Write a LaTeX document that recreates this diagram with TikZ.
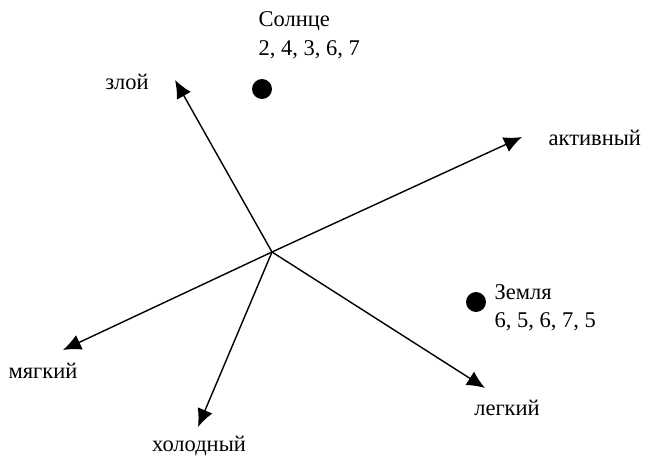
\documentclass[tikz,border=0pt]{standalone}
\usepackage{fontspec}
\setmainfont{Liberation Serif}
\usetikzlibrary{arrows.meta}

\begin{document}
\begin{tikzpicture}[x = 0.02cm, y = -0.02cm, dot/.style = {draw, fill = black, circle, inner sep = 0pt, minimum size = 0.37cm}, lbl/.style = {inner sep = 0pt, font = \fontsize{12.8}{15}\selectfont}, >={Latex[length=0.36cm, width=0.32cm]}, line width = 0.8pt]
				\useasboundingbox (0,0) rectangle (645,457);
				\coordinate (O) at (272,252);
				\coordinate (zloj) at (175,80);
				\coordinate (aktiv) at (522,137);
				\coordinate (myag) at (63,350);
				\coordinate (holod) at (198,427);
				\coordinate (legk) at (485,388);
				\node[lbl] (Lzloj) at (127,82) {злой};
				\node[lbl, anchor = west] (Laktiv) at (548,138) {активный};
				\node[lbl] (Lmyag) at (43,371) {мягкий};
				\node[lbl] (Lholod) at (199,446) {холодный};
				\node[lbl] (Llegk) at (507,408) {легкий};
				\node[dot] (sun) at (262,89) {};
				\node[lbl, anchor = west] (Lsun) at (258,21) {Солнце};
				\node[lbl, anchor = west] (Vsun) at (258,50) {2, 4, 3, 6, 7};
				\node[dot] (earth) at (476,302) {};
				\node[lbl, anchor = west] (Learth) at (494,292) {Земля};
				\node[lbl, anchor = west] (Vearth) at (494,322) {6, 5, 6, 7, 5};
				\draw[->] (O) -- (zloj);
				\draw[->] (O) -- (aktiv);
				\draw[->] (O) -- (myag);
				\draw[->] (O) -- (holod);
				\draw[->] (O) -- (legk);
			\end{tikzpicture}
\end{document}
